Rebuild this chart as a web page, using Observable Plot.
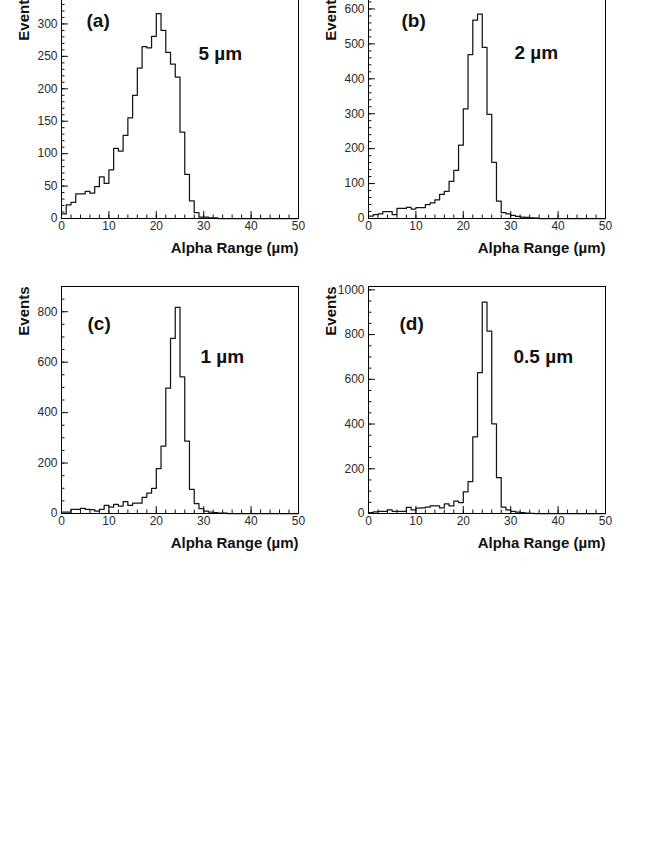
<!DOCTYPE html>
<html><head><meta charset="utf-8">
<script src="https://cdn.jsdelivr.net/npm/d3@7"></script>
<script src="https://cdn.jsdelivr.net/npm/@observablehq/plot@0.6"></script>
<style>
html,body{margin:0;padding:0;background:#fff;}
#wrap{position:relative;width:664px;height:860px;overflow:hidden;background:#fff;}
.panel{position:absolute;}
.panel svg{background:transparent !important;}
.panel svg [aria-label*="tick label"],
.panel svg [aria-label*="tick label"] text{font-size:12px !important;font-family:'Liberation Sans', Arial, sans-serif !important;fill:#2a2a2a !important;}
</style></head><body><div id="wrap"></div>
<script>
// Bin lower edges (µm), 1 µm bins from 0 to 50
const binEdges = d3.range(0, 51);

// Counts per bin
const countsA = [7,21,25,38,38,42,39,49,64,54,75,108,104,128,155,190,232,265,263,281,316,290,256,238,218,133,68,27,9,2,2,1,1,0,0,0,0,0,0,0,0,0,0,0,0,0,0,0,0,0];
const countsB = [7,11,13,20,20,11,29,29,32,27,31,31,40,45,53,69,78,106,138,210,314,469,568,585,490,298,161,50,17,13,9,6,4,3,2,1,0,0,0,0,0,0,0,0,0,0,0,0,0,0];
const countsC = [5,5,16,16,20,16,15,9,16,32,25,36,29,47,32,41,41,64,81,100,178,267,497,694,817,542,287,96,39,19,9,5,3,1,1,0,0,0,0,0,0,0,0,0,0,0,0,0,0,0];
const countsD = [4,7,10,10,16,10,10,10,27,16,24,25,28,34,34,25,43,34,55,49,97,143,343,630,945,815,401,160,28,16,10,6,4,2,1,0,0,0,0,0,0,0,0,0,0,0,0,0,0,0];

const panelTags = ["(a)", "(b)", "(c)", "(d)"];
const panelSizes = ["5 µm", "2 µm", "1 µm", "0.5 µm"];
const xLabel = "Alpha Range (µm)";
const yLabel = "Events";

const xMajor = [0,10,20,30,40,50];
const xMinor = d3.range(0, 51, 2);
const yMajorA = [0,50,100,150,200,250,300];
const yMajorB = [0,100,200,300,400,500,600];
const yMajorC = [0,200,400,600,800];
const yMajorD = [0,200,400,600,800,1000];
const yMaxes = [350, 650, 900, 1015];
const yMinorA = d3.range(0, 351, 10);
const yMinorB = d3.range(0, 651, 20);
const yMinorC = d3.range(0, 901, 50);
const yMinorD = d3.range(0, 1001, 50);

const FONT = "'Liberation Sans', Arial, Helvetica, sans-serif";
const ML = 61, MR = 12, MT = 20, MB = 40, FW = 237, FH = 227;
const W = ML + FW + MR, H = MT + FH + MB;
const fmt = d => String(d);

function panel(cfg) {
  const counts = cfg.counts;
  const pts = counts.map((c, i) => ({x: binEdges[i], y: c}));
  pts.push({x: binEdges[counts.length], y: counts[counts.length - 1]});
  return Plot.plot({
    width: W, height: H,
    marginLeft: ML, marginRight: MR, marginTop: MT, marginBottom: MB,
    style: {background: "transparent", fontFamily: FONT, fontSize: "12px", color: "#111"},
    x: {domain: [0, 50]},
    y: {domain: [0, cfg.yMax]},
    marks: [
      Plot.line(pts, {x: "x", y: "y", curve: "step-after", stroke: "#151515", strokeWidth: 1.25}),
      Plot.axisX(xMinor, {tickSize: -3.5, fill: "none", label: null}),
      Plot.axisX(xMajor, {tickSize: -7, fill: "none", label: null}),
      Plot.axisX(xMajor, {tickSize: 0, tickPadding: 3, fontSize: 12, fill: "#2a2a2a", tickFormat: fmt, label: null}),
      Plot.axisY(cfg.yMinor, {tickSize: -3.5, fill: "none", label: null}),
      Plot.axisY(cfg.yMajor, {tickSize: -7, fill: "none", label: null}),
      Plot.axisY(cfg.yMajor, {tickSize: 0, tickPadding: 4, fontSize: 12, fill: "#2a2a2a", tickFormat: fmt, label: null}),
      Plot.frame({stroke: "black"}),
      Plot.text([cfg.tag], {text: d => d, frameAnchor: "top-left", textAnchor: "start", lineAnchor: "middle", dx: cfg.tagDx, dy: cfg.tagDy, fontWeight: "bold", fontSize: 19, fill: "#111"}),
      Plot.text([cfg.size], {text: d => d, frameAnchor: "top-left", textAnchor: "start", lineAnchor: "middle", dx: cfg.sizeDx, dy: cfg.sizeDy, fontWeight: "bold", fontSize: 19, fill: "#111"}),
      Plot.text([xLabel], {text: d => d, frameAnchor: "bottom-right", textAnchor: "end", lineAnchor: "middle", dy: 29.5, fontWeight: "bold", fontSize: 15, fill: "#111"}),
      Plot.text([yLabel], {text: d => d, frameAnchor: "top-left", textAnchor: "end", lineAnchor: "middle", rotate: -90, dx: -37.7, fontWeight: "bold", fontSize: 15, fill: "#111"})
    ]
  });
}

const cfgs = [
  {counts: countsA, yMax: yMaxes[0], yMajor: yMajorA, yMinor: yMinorA, tag: panelTags[0], size: panelSizes[0], tagDx: 25, tagDy: 29, sizeDx: 137, sizeDy: 62, left: 0, top: -9 - MT},
  {counts: countsB, yMax: yMaxes[1], yMajor: yMajorB, yMinor: yMinorB, tag: panelTags[1], size: panelSizes[1], tagDx: 33, tagDy: 29, sizeDx: 146, sizeDy: 61, left: 307, top: -9 - MT},
  {counts: countsC, yMax: yMaxes[2], yMajor: yMajorC, yMinor: yMinorC, tag: panelTags[2], size: panelSizes[2], tagDx: 26, tagDy: 37, sizeDx: 139, sizeDy: 70, left: 0, top: 286 - MT},
  {counts: countsD, yMax: yMaxes[3], yMajor: yMajorD, yMinor: yMinorD, tag: panelTags[3], size: panelSizes[3], tagDx: 31, tagDy: 37, sizeDx: 145, sizeDy: 70, left: 307, top: 286 - MT}
];

const wrap = document.getElementById("wrap");
for (const c of cfgs) {
  const div = document.createElement("div");
  div.className = "panel";
  div.style.left = c.left + "px";
  div.style.top = c.top + "px";
  div.appendChild(panel(c));
  wrap.appendChild(div);
}
</script></body></html>
